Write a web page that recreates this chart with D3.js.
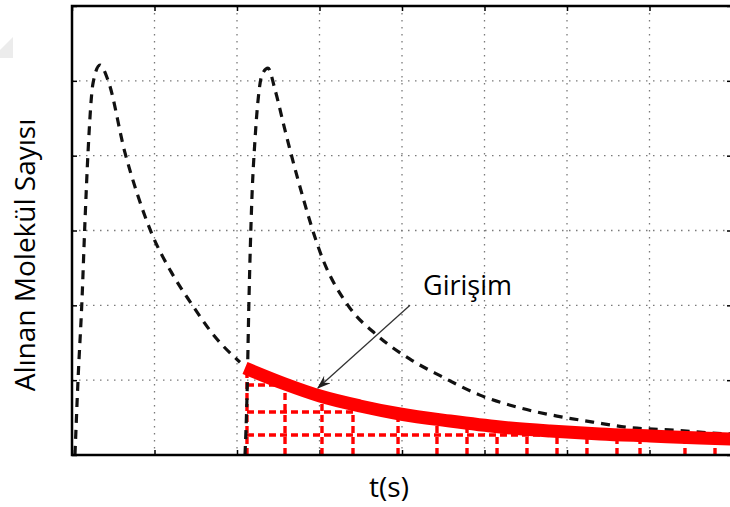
<!DOCTYPE html>
<html>
<head>
<meta charset="utf-8">
<script src="https://cdn.jsdelivr.net/npm/d3@7"></script>
<style>
  body { margin: 0; background: #fff; }
  text { font-family: "Open Sans", "Noto Sans", sans-serif; fill: #000; }
</style>
</head>
<body>
<div id="chart"></div>
<script>
// tick positions (no labels shown on the original)
const xTicks = [0, 1, 2, 3, 4, 5, 6, 7, 8];
const yTicks = [0, 1, 2, 3, 4, 5, 6];

// first pulse (dashed black)
const pulse1T = [0.036, 0.073, 0.121, 0.158, 0.194, 0.255, 0.339, 0.436, 0.642, 0.788, 0.97, 1.2, 1.43, 1.733, 2.036];
const pulse1V = [0, 1.0, 2.07, 3.14, 4.04, 4.97, 5.21, 5.01, 4.04, 3.5, 2.95, 2.45, 2.05, 1.58, 1.24];

// second pulse (dashed black)
const pulse2T = [2.097, 2.12, 2.145, 2.18, 2.218, 2.255, 2.303, 2.376, 2.461, 2.582, 2.739, 3.042, 3.345, 3.697, 4.097, 4.461, 4.945, 5.394, 5.879, 6.315, 6.727, 7.333, 7.818, 8.0];
const pulse2V = [0, 0.73, 2.07, 3.41, 4.21, 4.74, 5.08, 5.17, 4.88, 4.34, 3.68, 2.61, 2.0, 1.6, 1.28, 1.06, 0.8, 0.64, 0.52, 0.44, 0.37, 0.33, 0.29, 0.28];

// interference tail (thick red)
const isiT = [2.097, 2.582, 3.006, 3.491, 3.976, 4.582, 5.188, 5.794, 6.4, 7.006, 7.612, 8.0];
const isiV = [1.163, 0.949, 0.788, 0.655, 0.548, 0.454, 0.374, 0.321, 0.281, 0.254, 0.227, 0.214];

// red dashed sampling grid under the tail
const sampleT = [2.121, 2.582, 3.03, 3.406, 3.952, 4.424, 4.788, 5.152, 5.515, 5.879, 6.242, 6.606, 6.885, 7.43, 7.794];
const sampleTop = [1.15, 0.95, 0.78, 0.67, 0.55, 0.48, 0.42, 0.38, 0.35, 0.31, 0.29, 0.27, 0.26, 0.23, 0.22];
const levelV = [0.935, 0.575, 0.267];
const levelEnd = [2.582, 3.406, 8.0];

const annotText = "Girişim";
const annotAt = [4.255, 2.14];
const arrowFrom = [4.097, 2.0];
const arrowTo = [2.98, 0.895];

const yLabel = "Alınan Molekül Sayısı";
const xLabel = "t(s)";

const W = 730, H = 507;
const margin = { top: 6, right: -2, bottom: 52, left: 72 };
const width = W - margin.left - margin.right,
      height = H - margin.top - margin.bottom;

const svgRoot = d3.select("#chart").append("svg")
    .attr("width", W)
    .attr("height", H);

// faint leftover shape at the top-left corner of the scan
svgRoot.append("polygon")
    .attr("points", "0,50 13,37 13,58 0,58")
    .attr("fill", "#ececec");

const svg = svgRoot.append("g")
    .attr("transform", `translate(${margin.left},${margin.top})`);

const x = d3.scaleLinear().domain([0, 8]).range([0, width]);
const y = d3.scaleLinear().domain([0, 6]).range([height, 0]);

// dotted grid
svg.append("g")
    .selectAll("line")
    .data(xTicks.slice(1, -1))
    .enter().append("line")
    .attr("x1", d => x(d)).attr("x2", d => x(d))
    .attr("y1", 0).attr("y2", height)
    .attr("stroke", "#7a7a7a")
    .attr("stroke-width", 1.3)
    .attr("stroke-dasharray", "1.5,5.5");
svg.append("g")
    .selectAll("line")
    .data(yTicks.slice(1, -1))
    .enter().append("line")
    .attr("x1", 0).attr("x2", width)
    .attr("y1", d => y(d)).attr("y2", d => y(d))
    .attr("stroke", "#7a7a7a")
    .attr("stroke-width", 1.3)
    .attr("stroke-dasharray", "1.5,5.5");

// inward ticks on all four sides, no labels
function ticksOnly(g) {
    g.select(".domain").remove();
    g.selectAll("text").remove();
    g.selectAll("line").attr("stroke", "#000").attr("stroke-width", 1.5);
}
svg.append("g").attr("transform", `translate(0,${height})`)
    .call(d3.axisBottom(x).tickValues(xTicks).tickSize(-5)).call(ticksOnly);
svg.append("g")
    .call(d3.axisTop(x).tickValues(xTicks).tickSize(-5)).call(ticksOnly);
svg.append("g")
    .call(d3.axisLeft(y).tickValues(yTicks).tickSize(-5)).call(ticksOnly);
svg.append("g").attr("transform", `translate(${width},0)`)
    .call(d3.axisRight(y).tickValues(yTicks).tickSize(-5)).call(ticksOnly);

// red dashed sampling grid
svg.append("g")
    .selectAll("line")
    .data(levelV)
    .enter().append("line")
    .attr("x1", x(sampleT[0])).attr("x2", (d, i) => x(levelEnd[i]))
    .attr("y1", d => y(d)).attr("y2", d => y(d))
    .attr("stroke", "#ff0000")
    .attr("stroke-width", 3.4)
    .attr("stroke-dasharray", "7,4");
svg.append("g")
    .selectAll("line")
    .data(sampleT)
    .enter().append("line")
    .attr("x1", d => x(d)).attr("x2", d => x(d))
    .attr("y1", height).attr("y2", (d, i) => y(sampleTop[i]))
    .attr("stroke", "#ff0000")
    .attr("stroke-width", 3.4)
    .attr("stroke-dasharray", "7,4");

// dashed pulses
const line = d3.line()
    .x(d => x(d[0]))
    .y(d => y(d[1]))
    .curve(d3.curveMonotoneX);

[[pulse1T, pulse1V], [pulse2T, pulse2V]].forEach(([ts, vs]) => {
    svg.append("path")
        .datum(ts.map((t, i) => [t, vs[i]]))
        .attr("fill", "none")
        .attr("stroke", "#111")
        .attr("stroke-width", 3.2)
        .attr("stroke-dasharray", "9,7")
        .attr("d", line);
});

// thick red interference curve
svg.append("path")
    .datum(isiT.map((t, i) => [t, isiV[i]]))
    .attr("fill", "none")
    .attr("stroke", "#ff0000")
    .attr("stroke-width", 13)
    .attr("d", line);

// frame
svg.append("rect")
    .attr("width", width).attr("height", height)
    .attr("fill", "none")
    .attr("stroke", "#000")
    .attr("stroke-width", 2.5);

// annotation arrow
svgRoot.append("defs").append("marker")
    .attr("id", "head")
    .attr("viewBox", "0 0 14 10")
    .attr("refX", 13).attr("refY", 5)
    .attr("markerWidth", 14).attr("markerHeight", 10)
    .attr("markerUnits", "userSpaceOnUse")
    .attr("orient", "auto")
    .append("path")
    .attr("d", "M0,0 L14,5 L0,10 L5,5 Z")
    .attr("fill", "#222");

svg.append("line")
    .attr("x1", x(arrowFrom[0])).attr("y1", y(arrowFrom[1]))
    .attr("x2", x(arrowTo[0])).attr("y2", y(arrowTo[1]))
    .attr("stroke", "#333")
    .attr("stroke-width", 1.3)
    .attr("marker-end", "url(#head)");

svg.append("text")
    .attr("x", x(annotAt[0])).attr("y", y(annotAt[1]))
    .style("font-size", "27px")
    .text(annotText);

// axis titles
svgRoot.append("text")
    .attr("transform", "translate(35,255) rotate(-90)")
    .attr("text-anchor", "middle")
    .style("font-size", "28px")
    .text(yLabel);

svgRoot.append("text")
    .attr("x", 389).attr("y", 497)
    .attr("text-anchor", "middle")
    .style("font-size", "28px")
    .text(xLabel);
</script>
</body>
</html>
